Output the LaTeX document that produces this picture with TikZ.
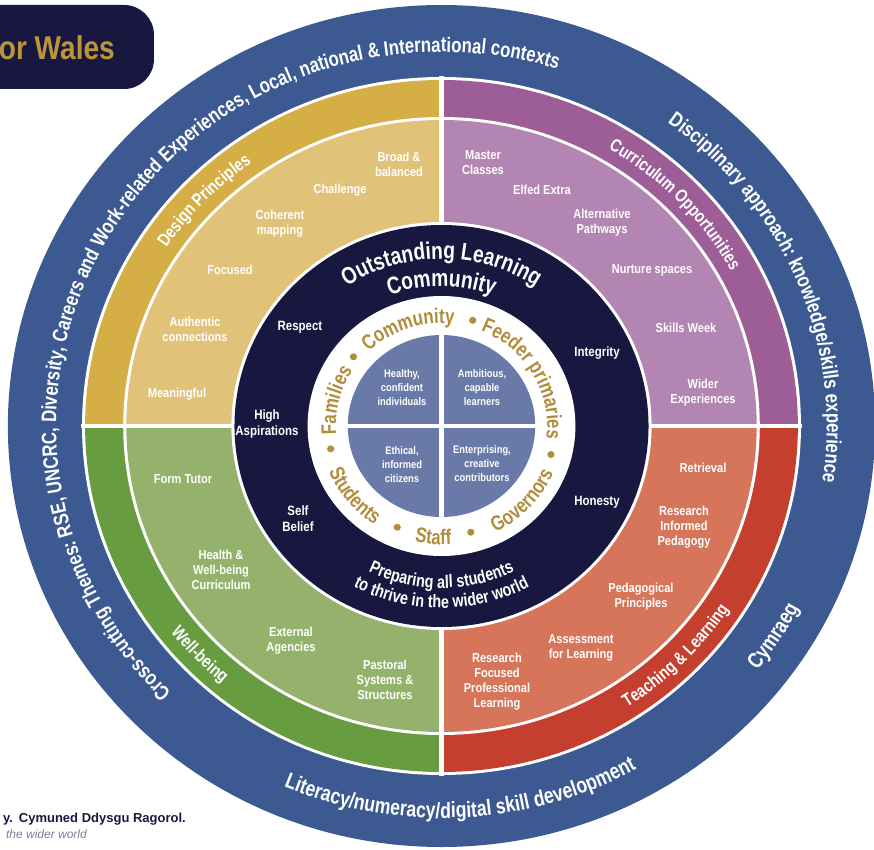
\documentclass[tikz,border=0pt]{standalone}
\usepackage{fontspec}
\setmainfont{Liberation Sans}
\newfontfamily\narrowsf{Liberation Sans}[FakeStretch=0.85]
\newfontfamily\ringsf{Liberation Sans}[FakeStretch=0.8]
\usetikzlibrary{decorations.text}

\definecolor{ringblue}{RGB}{60,90,145}
\definecolor{navy}{RGB}{24,23,64}
\definecolor{golddk}{RGB}{213,174,70}
\definecolor{goldlt}{RGB}{224,194,121}
\definecolor{plumdk}{RGB}{157,93,151}
\definecolor{plumlt}{RGB}{179,133,178}
\definecolor{greendk}{RGB}{104,156,65}
\definecolor{greenlt}{RGB}{148,178,107}
\definecolor{reddk}{RGB}{197,63,47}
\definecolor{redlt}{RGB}{214,117,89}
\definecolor{quadblue}{RGB}{105,121,168}
\definecolor{goldtxt}{RGB}{176,141,58}
\definecolor{titlegold}{RGB}{186,150,58}
\definecolor{greytxt}{RGB}{120,128,150}

\newcommand\outerfnt{\ringsf\bfseries\fontsize{21}{24}\selectfont}
\newcommand\lowerfnt{\ringsf\bfseries\fontsize{22}{25}\selectfont}
\newcommand\bandfnt{\ringsf\bfseries\fontsize{18}{21}\selectfont}
\newcommand\olcfnt{\ringsf\bfseries\fontsize{24}{27}\selectfont}
\newcommand\prepfnt{\ringsf\bfseries\fontsize{18}{21}\selectfont}
\newcommand\goldfnt{\ringsf\bfseries\fontsize{21}{24}\selectfont}

\begin{document}
\begin{tikzpicture}[x=1pt,y=1pt,
    lbl/.style={text=white,align=center,inner sep=0pt,
      font=\narrowsf\bfseries\fontsize{13}{15}\selectfont},
    nlbl/.style={lbl,font=\narrowsf\bfseries\fontsize{13.5}{16}\selectfont},
    qlbl/.style={lbl,font=\narrowsf\bfseries\fontsize{11}{14}\selectfont},
    ringtext/.style={decorate,decoration={text along path,text align=center,
      text color=white,text={#1}}},
    goldtext/.style={decorate,decoration={text along path,text align=center,
      text color=goldtxt,text={#1}}},
    dot/.style={fill=goldtxt}
  ]
  \useasboundingbox (-441.5,-423) rectangle (432.5,426);

  \begin{scope}[xscale=1.03]
    \fill[ringblue] (0,0) circle (421);
    \fill[white] (0,0) circle (349);

    \fill[golddk] (0,0) -- (90:346) arc[start angle=90,end angle=180,radius=346] -- cycle;
    \fill[plumdk] (0,0) -- (0:346) arc[start angle=0,end angle=90,radius=346] -- cycle;
    \fill[greendk] (0,0) -- (180:346) arc[start angle=180,end angle=270,radius=346] -- cycle;
    \fill[reddk] (0,0) -- (270:346) arc[start angle=270,end angle=360,radius=346] -- cycle;
    \fill[white] (0,0) circle (309);
    \fill[goldlt] (0,0) -- (90:306) arc[start angle=90,end angle=180,radius=306] -- cycle;
    \fill[plumlt] (0,0) -- (0:306) arc[start angle=0,end angle=90,radius=306] -- cycle;
    \fill[greenlt] (0,0) -- (180:306) arc[start angle=180,end angle=270,radius=306] -- cycle;
    \fill[redlt] (0,0) -- (270:306) arc[start angle=270,end angle=360,radius=306] -- cycle;
    \fill[white] (0,0) circle (204);
    \draw[white,line width=4.5pt] (-350,0) -- (350,0) (0,-350) -- (0,350);

    \fill[navy] (0,0) circle (201);
    \fill[white] (0,0) circle (130);
    \fill[quadblue] (0,0) circle (91);
    \draw[white,line width=4.5pt] (-95,0) -- (95,0) (0,-95) -- (0,95);

    \path[ringtext={|\outerfnt|Cross-cutting Themes: RSE, UNCRC, Diversity, Careers and Work-related Experiences, Local, national {\&} International contexts}]
      (249:374) arc[start angle=249,end angle=49,radius=374];
    \path[ringtext={|\outerfnt|Disciplinary approach: knowledge/skills experience}]
      (82:374) arc[start angle=82,end angle=-37,radius=374];
    \path[ringtext={|\lowerfnt|Literacy/numeracy/digital skill development}]
      (213:392) arc[start angle=213,end angle=333,radius=392];
    \path[ringtext={|\lowerfnt|Cymraeg}]
      (305:392) arc[start angle=305,end angle=349,radius=392];

    \path[ringtext={|\bandfnt|Design Principles}]
      (176:321) arc[start angle=176,end angle=96,radius=321];
    \path[ringtext={|\bandfnt|Curriculum Opportunities}]
      (84:321) arc[start angle=84,end angle=4,radius=321];
    \path[ringtext={|\bandfnt|Teaching {\&} Learning}]
      (275:334) arc[start angle=275,end angle=355,radius=334];
    \path[ringtext={|\bandfnt|Well-being}]
      (190:334) arc[start angle=190,end angle=258,radius=334];

    \path[ringtext={|\olcfnt|Outstanding Learning}]
      (160:167) arc[start angle=160,end angle=20,radius=167];
    \path[ringtext={|\olcfnt|Community}]
      (150:140) arc[start angle=150,end angle=30,radius=140];
    \path[ringtext={|\prepfnt|Preparing all students}]
      (200:162) arc[start angle=200,end angle=340,radius=162];
    \path[ringtext={|\prepfnt|to thrive in the wider world}]
      (190:182) arc[start angle=190,end angle=350,radius=182];

    \path[goldtext={|\goldfnt|Families}]
      (200:102.5) arc[start angle=200,end angle=132,radius=102.5];
    \path[goldtext={|\goldfnt|Community}]
      (145:102.5) arc[start angle=145,end angle=72,radius=102.5];
    \path[goldtext={|\goldfnt|Feeder primaries}]
      (75:102.5) arc[start angle=75,end angle=-14,radius=102.5];
    \path[goldtext={|\goldfnt|Governors}]
      (-75:118.5) arc[start angle=-75,end angle=-12,radius=118.5];
    \path[goldtext={|\goldfnt|Staff}]
      (-115:118.5) arc[start angle=-115,end angle=-73,radius=118.5];
    \path[goldtext={|\goldfnt|Students}]
      (190:118.5) arc[start angle=190,end angle=249,radius=118.5];

    \fill[dot] (141:110) circle (3.5);
    \fill[dot] (74:110) circle (3.5);
    \fill[dot] (-15:110) circle (3.5);
    \fill[dot] (-75:110) circle (3.5);
    \fill[dot] (247:110) circle (3.5);
    \fill[dot] (192:110) circle (3.5);
  \end{scope}

  \node[lbl] (broad) at (-42.5,262) {Broad \&\\balanced};
  \node[lbl] (challenge) at (-101.5,236) {Challenge};
  \node[lbl] (coherent) at (-161.5,202) {Coherent\\mapping};
  \node[lbl] (focused) at (-211.5,156) {Focused};
  \node[lbl] (authentic) at (-246.5,97) {Authentic\\connections};
  \node[lbl] (meaningful) at (-264.5,32) {Meaningful};

  \node[lbl] (master) at (41.5,263) {Master\\Classes};
  \node[lbl] (elfed) at (100.5,236) {Elfed Extra};
  \node[lbl] (altpath) at (160.5,203) {Alternative\\Pathways};
  \node[lbl] (nurture) at (210.5,156) {Nurture spaces};
  \node[lbl] (skillsweek) at (244.5,98) {Skills Week};
  \node[lbl] (widerexp) at (261.5,33) {Wider\\Experiences};

  \node[lbl] (formtutor) at (-258.5,-53) {Form Tutor};
  \node[lbl] (healthwb) at (-220.5,-144) {Health \&\\Well-being\\Curriculum};
  \node[lbl] (external) at (-150.5,-215) {External\\Agencies};
  \node[lbl] (pastoral) at (-56.5,-254) {Pastoral\\Systems \&\\Structures};

  \node[lbl] (retrieval) at (261.5,-42) {Retrieval};
  \node[lbl] (resinf) at (242.5,-101) {Research\\Informed\\Pedagogy};
  \node[lbl] (pedprin) at (199.5,-171) {Pedagogical\\Principles};
  \node[lbl] (afl) at (139.5,-222) {Assessment\\for Learning};
  \node[lbl] (resfoc) at (55.5,-256) {Research\\Focused\\Professional\\Learning};

  \node[nlbl] (respect) at (-141.5,99) {Respect};
  \node[nlbl] (integrity) at (155.5,73) {Integrity};
  \node[nlbl] (highasp) at (-174.5,2) {High\\Aspirations};
  \node[nlbl] (selfbelief) at (-143.5,-93) {Self\\Belief};
  \node[nlbl] (honesty) at (155.5,-76) {Honesty};

  \node[qlbl] (healthy) at (-39.5,38) {Healthy,\\confident\\individuals};
  \node[qlbl] (ambitious) at (40.5,38) {Ambitious,\\capable\\learners};
  \node[qlbl] (ethical) at (-39.5,-39) {Ethical,\\informed\\citizens};
  \node[qlbl] (enterprising) at (40.5,-38) {Enterprising,\\creative\\contributors};

  \fill[navy,rounded corners=30pt] (-520,337) rectangle (-287.5,421);
  \node[anchor=base east,inner sep=0pt,text=titlegold,
    font=\narrowsf\bfseries\fontsize{33}{36}\selectfont] (title) at (-326.5,366) {or Wales};

  \node[anchor=base east,inner sep=0pt,text=navy,
    font=\bfseries\fontsize{13}{15}\selectfont] (cymuned) at (-255.5,-396)
    {y.\hspace{6pt}Cymuned Ddysgu Ragorol.};
  \node[anchor=base east,inner sep=0pt,text=greytxt,
    font=\itshape\fontsize{12}{14}\selectfont] (world) at (-354.5,-412) {the wider world};
\end{tikzpicture}
\end{document}
